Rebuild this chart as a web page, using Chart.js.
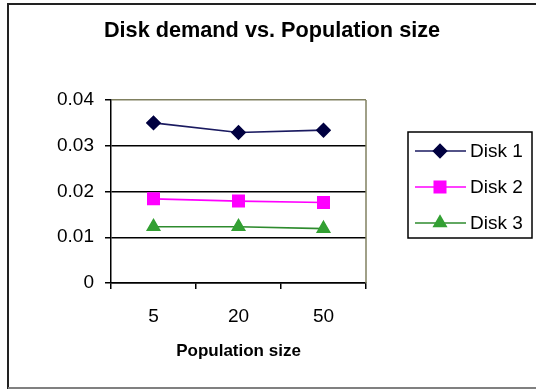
<!DOCTYPE html>
<html>
<head>
<meta charset="utf-8">
<script src="https://cdn.jsdelivr.net/npm/chart.js@4"></script>
<style>
  html, body { margin: 0; padding: 0; background: #fff; }
  #wrap { width: 536px; height: 389px; position: relative; }
</style>
</head>
<body>
<div id="wrap"><canvas id="c" width="536" height="389"></canvas></div>
<script>
// values
const populationSizes = ['5', '20', '50'];
const disk1 = [0.0350, 0.0329, 0.0334];
const disk2 = [0.0184, 0.0179, 0.0176];
const disk3 = [0.0123, 0.0123, 0.0119];
const yTicks = [0, 0.01, 0.02, 0.03, 0.04];
const chartTitle = 'Disk demand vs. Population size';

const FONT = 'Arial, "Liberation Sans", sans-serif';

// frame, title and right edge of the plot
const framePlugin = {
  id: 'frame',
  afterDraw(chart) {
    const ctx = chart.ctx;
    const a = chart.chartArea;
    ctx.save();
    ctx.lineWidth = 2;
    ctx.strokeStyle = '#222';
    ctx.beginPath();
    ctx.moveTo(8, 389);
    ctx.lineTo(8, 4);
    ctx.lineTo(536, 4);
    ctx.stroke();
    ctx.strokeStyle = '#808080';
    ctx.beginPath();
    ctx.moveTo(8, 388);
    ctx.lineTo(536, 388);
    ctx.stroke();

    ctx.lineWidth = 1.5;
    ctx.strokeStyle = '#808060';
    ctx.beginPath();
    ctx.moveTo(a.right, a.top);
    ctx.lineTo(a.right, a.bottom);
    ctx.stroke();

    ctx.fillStyle = '#000';
    ctx.font = 'bold 21.7px ' + FONT;
    ctx.textAlign = 'center';
    ctx.textBaseline = 'middle';
    ctx.fillText(chartTitle, 272, 31);
    ctx.restore();
  }
};

// boxed legend on the right
const boxLegend = {
  id: 'boxLegend',
  afterDraw(chart) {
    const ctx = chart.ctx;
    const x0 = 408, y0 = 132, w = 124, h = 106;
    ctx.save();
    ctx.lineWidth = 1.5;
    ctx.strokeStyle = '#000';
    ctx.strokeRect(x0, y0, w, h);
    chart.data.datasets.forEach((ds, i) => {
      const y = 151 + i * 36;
      ctx.strokeStyle = ds.borderColor;
      ctx.lineWidth = ds.borderWidth;
      ctx.beginPath();
      ctx.moveTo(415, y);
      ctx.lineTo(466, y);
      ctx.stroke();
      ctx.fillStyle = ds.pointBackgroundColor;
      ctx.strokeStyle = ds.pointBorderColor;
      Chart.helpers.drawPoint(ctx, {
        pointStyle: ds.pointStyle,
        radius: ds.pointRadius,
        borderWidth: 1
      }, 440, y);
      ctx.fillStyle = '#000';
      ctx.font = '19px ' + FONT;
      ctx.textBaseline = 'middle';
      ctx.textAlign = 'left';
      ctx.fillText(ds.label, 470, y + 1);
    });
    ctx.restore();
  }
};

new Chart(document.getElementById('c'), {
  type: 'line',
  data: {
    labels: populationSizes,
    datasets: [
      {
        label: 'Disk 1', data: disk1,
        borderColor: '#1a1a60', backgroundColor: '#000040',
        pointBackgroundColor: '#000040', pointBorderColor: '#000040',
        pointStyle: 'rectRot', pointRadius: 6.5, borderWidth: 1.7
      },
      {
        label: 'Disk 2', data: disk2,
        borderColor: '#ff00ff', backgroundColor: '#ff00ff',
        pointBackgroundColor: '#ff00ff', pointBorderColor: '#ff00ff',
        pointStyle: 'rect', pointRadius: 8, borderWidth: 1.7
      },
      {
        label: 'Disk 3', data: disk3,
        borderColor: '#2e8b2e', backgroundColor: '#33a033',
        pointBackgroundColor: '#33a033', pointBorderColor: '#33a033',
        pointStyle: 'triangle', pointRadius: 7, borderWidth: 1.7
      }
    ]
  },
  options: {
    responsive: false,
    animation: false,
    layout: { padding: { left: 0, right: 170, top: 100, bottom: 0 } },
    elements: { line: { tension: 0 } },
    plugins: {
      legend: { display: false },
      tooltip: { enabled: false },
      title: { display: false }
    },
    scales: {
      x: {
        offset: true,
        grid: {
          offset: true, drawOnChartArea: false, drawTicks: true,
          tickLength: 6, color: '#000', lineWidth: 1.5
        },
        border: { color: '#000', width: 1.5 },
        ticks: { color: '#000', font: { family: FONT, size: 19 }, padding: 16 },
        title: {
          display: true, text: 'Population size', color: '#000',
          font: { family: FONT, size: 17, weight: 'bold' },
          padding: { top: 0, bottom: 27 }
        },
        afterFit(scale) { scale.height = 106; }
      },
      y: {
        min: 0, max: 0.04,
        afterBuildTicks(scale) { scale.ticks = yTicks.map(v => ({ value: v })); },
        grid: {
          color: c => (c.tick && c.tick.value === 0.04 ? '#808060' : '#000'),
          lineWidth: 1.5,
          tickLength: 6,
          tickColor: '#000'
        },
        border: { color: '#000', width: 1.5 },
        ticks: { color: '#000', font: { family: FONT, size: 19 }, padding: 11 },
        afterFit(scale) { scale.width = 111; }
      }
    }
  },
  plugins: [framePlugin, boxLegend]
});
</script>
</body>
</html>
